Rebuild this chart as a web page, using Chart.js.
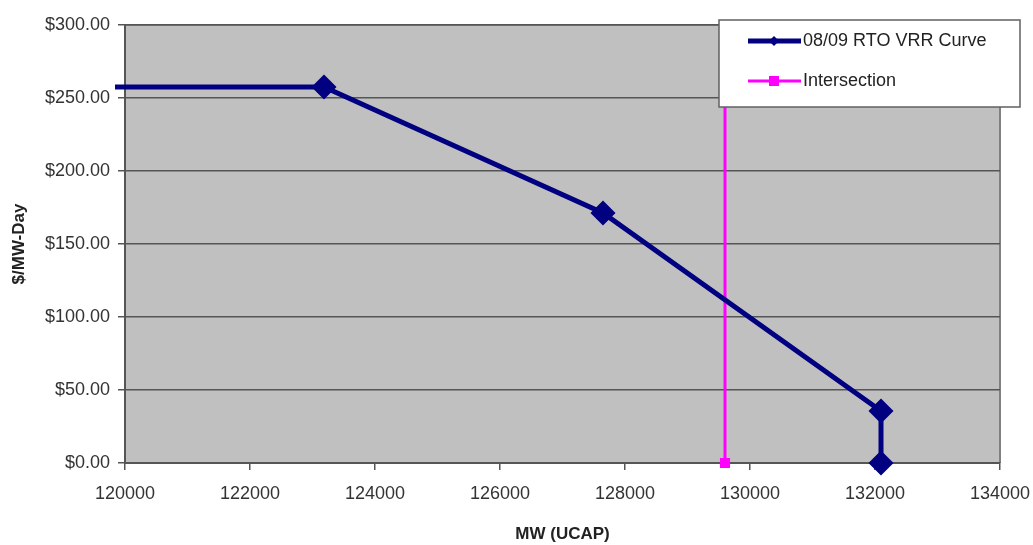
<!DOCTYPE html>
<html lang="en">
<head>
    <meta charset="UTF-8">
    <title>08/09 RTO VRR Curve</title>
    <script src="https://cdn.jsdelivr.net/npm/chart.js"></script>
    <style>
        body { margin: 0; background: #fff; }
        #wrap { width: 1033px; height: 545px; }
    </style>
</head>
<body>
    <div id="wrap"><canvas id="myChart" width="1033" height="545"></canvas></div>
    <script>
        // VRR curve points (MW UCAP, $/MW-Day)
        var vrrMW = [119840, 123184, 127648, 132096, 132096];
        var vrrPrice = [257.5, 257.5, 171.2, 35.6, 0];
        var vrrMarker = [0, 9, 9, 9, 9];

        // intersection vertical line
        var intMW = [129600, 129600];
        var intPrice = [0, 300];
        var intMarker = [5, 0];

        var xTicks = [120000, 122000, 124000, 126000, 128000, 130000, 132000, 134000];
        var yTicks = [0, 50, 100, 150, 200, 250, 300];

        function pts(xs, ys) {
            return xs.map(function (x, i) { return { x: x, y: ys[i] }; });
        }

        // gray plot background + frame
        var plotBg = {
            id: 'plotBg',
            beforeDraw: function (chart) {
                var a = chart.chartArea, c = chart.ctx;
                c.save();
                c.fillStyle = '#c0c0c0';
                c.fillRect(a.left, a.top, a.right - a.left, a.bottom - a.top);
                c.strokeStyle = '#808080';
                c.lineWidth = 2;
                c.beginPath();
                c.moveTo(a.left, a.top);
                c.lineTo(a.right, a.top);
                c.lineTo(a.right, a.bottom);
                c.stroke();
                c.restore();
            }
        };

        // Excel style legend box in the top right corner
        var boxLegend = {
            id: 'boxLegend',
            afterDatasetsDraw: function (chart) {
                var c = chart.ctx;
                var x = 719, y = 20, w = 301, h = 87;
                c.save();
                c.fillStyle = '#ffffff';
                c.fillRect(x, y, w, h);
                c.strokeStyle = '#606060';
                c.lineWidth = 1.5;
                c.strokeRect(x, y, w, h);
                c.font = '18px "Liberation Sans", Arial, sans-serif';
                c.textBaseline = 'middle';
                chart.data.datasets.forEach(function (ds, i) {
                    var ly = y + 21 + i * 40;
                    c.strokeStyle = ds.borderColor;
                    c.lineWidth = ds.borderWidth;
                    c.beginPath();
                    c.moveTo(x + 29, ly);
                    c.lineTo(x + 82, ly);
                    c.stroke();
                    c.fillStyle = ds.borderColor;
                    if (i === 0) {
                        c.beginPath();
                        c.moveTo(x + 55, ly - 5);
                        c.lineTo(x + 60, ly);
                        c.lineTo(x + 55, ly + 5);
                        c.lineTo(x + 50, ly);
                        c.closePath();
                        c.fill();
                    } else {
                        c.fillRect(x + 50, ly - 5, 10, 10);
                    }
                    c.fillStyle = '#222';
                    c.fillText(ds.label, x + 84, ly);
                });
                c.restore();
            }
        };

        var tickFont = { family: '"Liberation Sans", Arial, sans-serif', size: 18 };
        var titleFont = { family: '"Liberation Sans", Arial, sans-serif', size: 17, weight: 'bold' };

        var ctx = document.getElementById('myChart').getContext('2d');
        var myChart = new Chart(ctx, {
            type: 'scatter',
            data: {
                datasets: [{
                    label: '08/09 RTO VRR Curve',
                    data: pts(vrrMW, vrrPrice),
                    showLine: true,
                    borderColor: '#000080',
                    backgroundColor: '#000080',
                    borderWidth: 5,
                    pointStyle: 'rectRot',
                    pointRadius: vrrMarker,
                    pointHoverRadius: vrrMarker,
                    clip: false
                }, {
                    label: 'Intersection',
                    data: pts(intMW, intPrice),
                    showLine: true,
                    borderColor: '#ff00ff',
                    backgroundColor: '#ff00ff',
                    borderWidth: 3,
                    pointStyle: 'rect',
                    pointRadius: intMarker,
                    pointHoverRadius: intMarker,
                    clip: false
                }]
            },
            options: {
                responsive: false,
                animation: false,
                layout: { padding: { top: 25, right: 33, left: 0, bottom: 0 } },
                plugins: {
                    legend: { display: false },
                    tooltip: { enabled: false }
                },
                scales: {
                    x: {
                        type: 'linear',
                        min: 120000,
                        max: 134000,
                        afterFit: function (s) {
                            s.height = 82;
                            s.paddingLeft = 0;
                            s.paddingRight = 0;
                        },
                        afterBuildTicks: function (s) { s.ticks = xTicks.map(function (v) { return { value: v }; }); },
                        ticks: {
                            color: '#333',
                            font: tickFont,
                            padding: 13,
                            maxRotation: 0,
                            callback: function (v) { return String(v); }
                        },
                        grid: { drawOnChartArea: false, color: '#555', tickLength: 7, lineWidth: 1.5 },
                        border: { color: '#555', width: 2 },
                        title: { display: true, text: 'MW (UCAP)', color: '#222', font: titleFont, padding: { top: 20, bottom: 0 } }
                    },
                    y: {
                        type: 'linear',
                        min: 0,
                        max: 300,
                        afterFit: function (s) { s.width = 125; },
                        afterBuildTicks: function (s) { s.ticks = yTicks.map(function (v) { return { value: v }; }); },
                        ticks: {
                            color: '#333',
                            font: tickFont,
                            padding: 8,
                            callback: function (v) { return '$' + v.toFixed(2); }
                        },
                        grid: { color: '#555', tickLength: 7, lineWidth: 1.5 },
                        border: { color: '#555', width: 2 },
                        title: { display: true, text: '$/MW-Day', color: '#222', font: titleFont, padding: { top: 9, bottom: 4 } }
                    }
                }
            },
            plugins: [plotBg, boxLegend]
        });
    </script>
</body>
</html>
